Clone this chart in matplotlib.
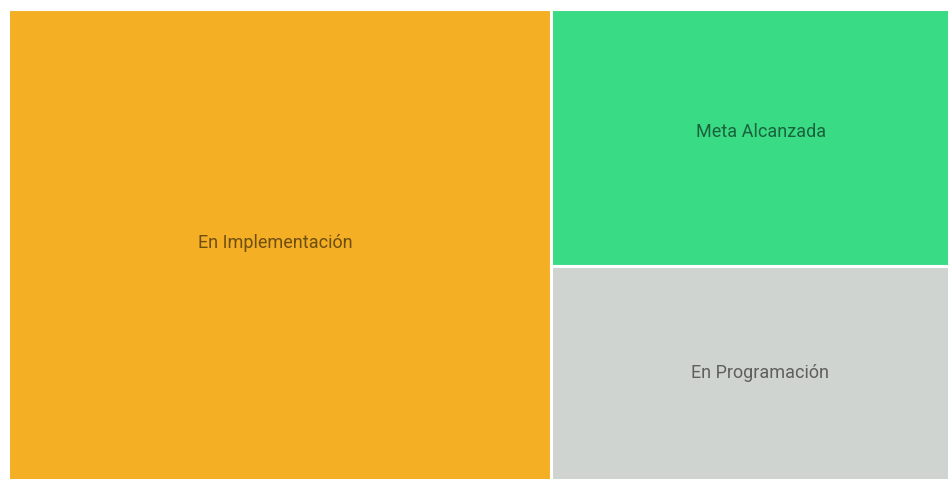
import matplotlib.pyplot as plt
from matplotlib.patches import Rectangle

labels = ["En Implementación", "Meta Alcanzada", "En Programación"]
values = [30, 12, 10]
colors = ["#F4AF24", "#3ADB85", "#D0D4D1"]

plt.rcParams['font.family'] = ['Roboto', 'DejaVu Sans']

fig = plt.figure(figsize=(9.48, 4.79), dpi=100)
# a little past the figure edge so the white borders land like the reference
ax = fig.add_axes([7.5 / 948, -1.5 / 479, 942 / 948, 472 / 479])
ax.set_xlim(0, 1)
ax.set_ylim(0, 1)
ax.axis("off")

# treemap layout: biggest value is a full-height column, the rest stack on the right
total = sum(values)
w0 = values[0] / total
rects = [(0, 0, w0, 1)]
rest = sum(values[1:])
top = 1.0
for v in values[1:]:
    h = v / rest
    rects.append((w0, top - h, 1 - w0, h))
    top -= h

# label nudges in points, to match where the original put them
nudges = [(-3, 1), (7.5, 3.5), (7, 0)]

for (x, y, w, h), lab, col, nd in zip(rects, labels, colors, nudges):
    ax.add_patch(Rectangle((x, y), w, h, facecolor=col, edgecolor="white", linewidth=2.2))
    ax.annotate(lab, (x + w / 2, y + h / 2), xytext=nd, textcoords="offset points",
                ha="center", va="center", fontsize=13, color="black", alpha=0.55)

fig.savefig("out.png", dpi=100)
